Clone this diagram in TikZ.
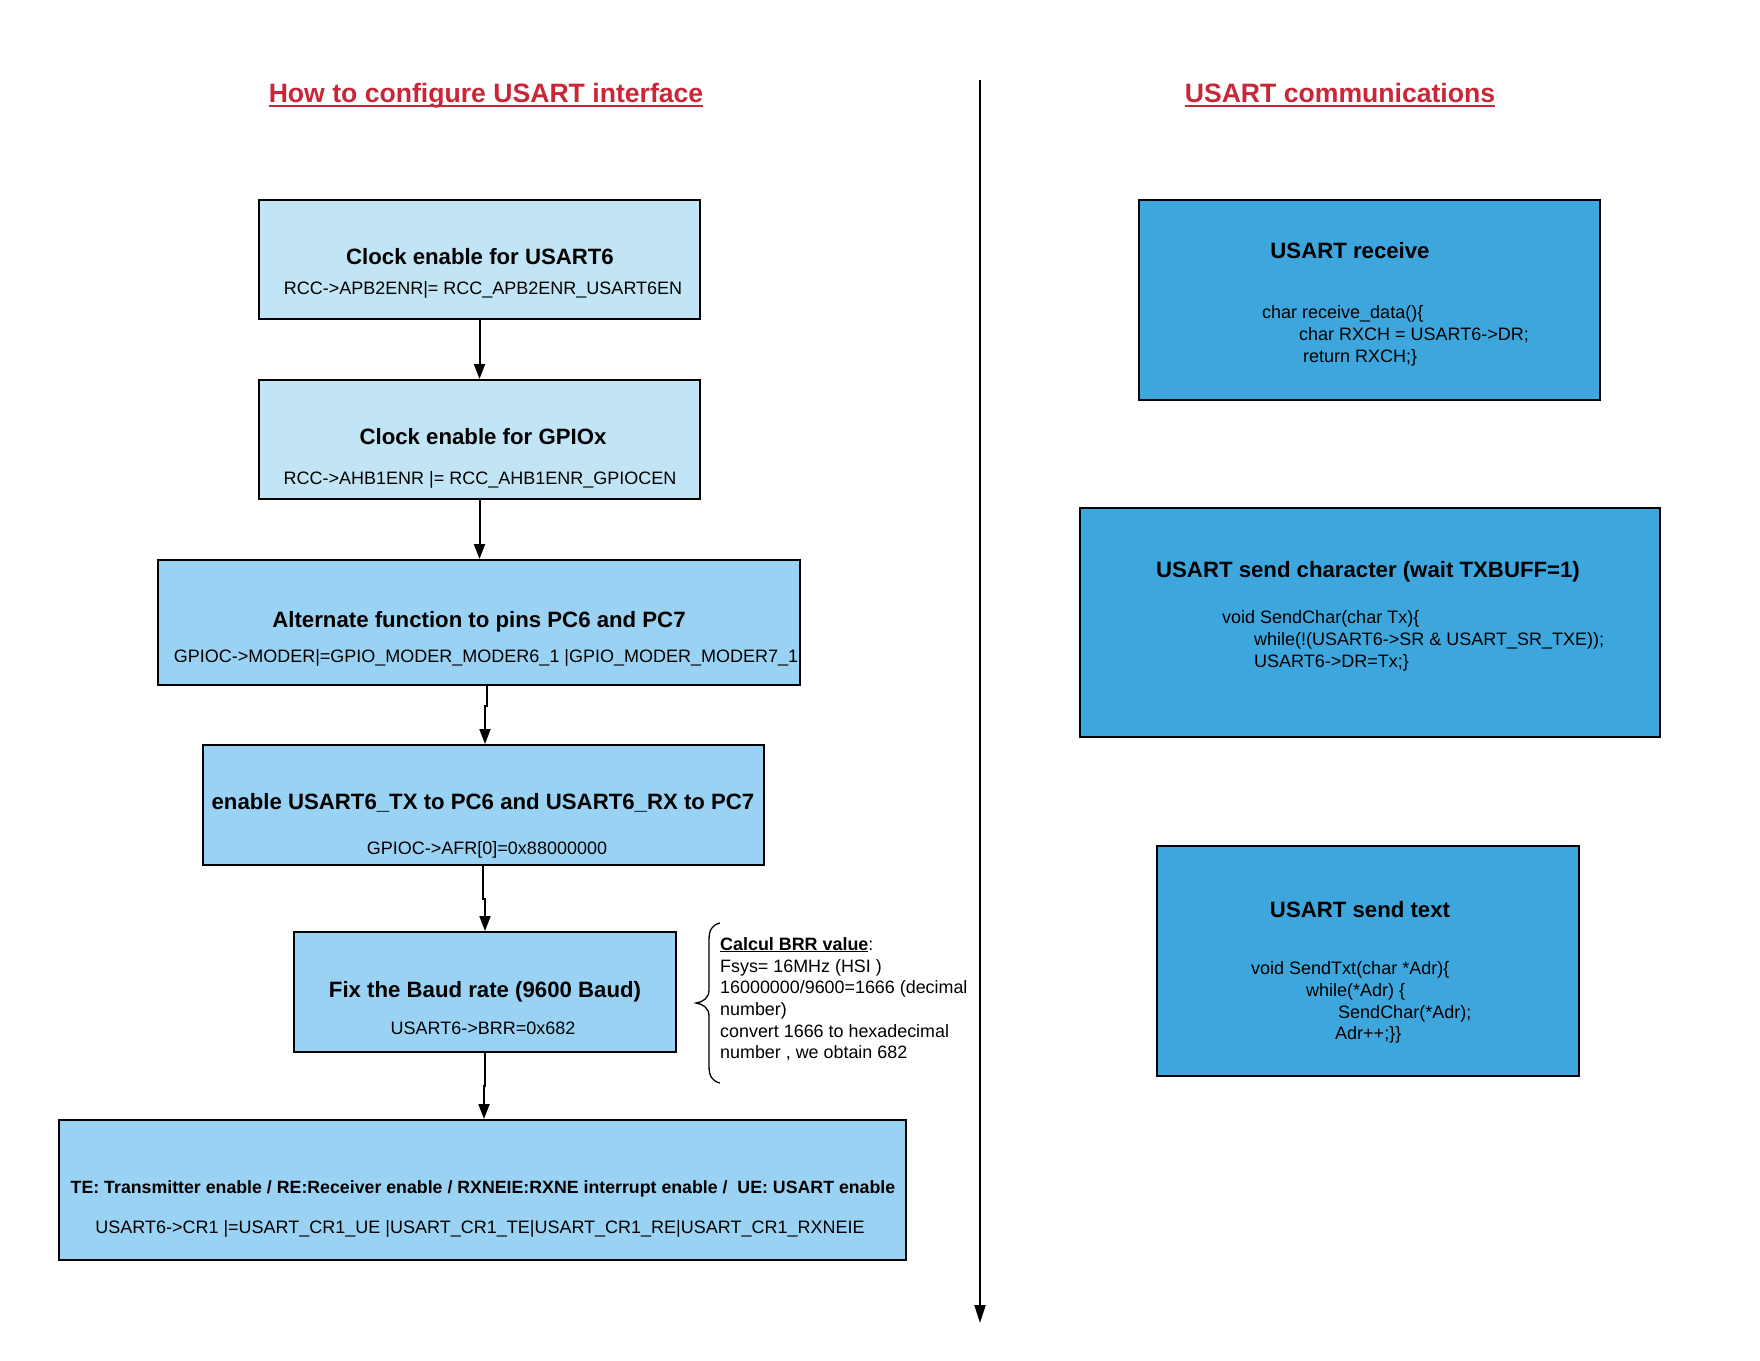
\documentclass[tikz,border=0pt]{standalone}
\usepackage{fontspec}
\setmainfont{Liberation Sans}
\usetikzlibrary{arrows.meta}
\definecolor{titlered}{RGB}{201,38,56}
\definecolor{lightA}{RGB}{194,229,246}
\definecolor{lightB}{RGB}{154,210,243}
\definecolor{darkC}{RGB}{60,166,221}
\tikzset{
  boxA/.style={draw=black, line width=2pt, fill=lightA, inner sep=0pt, rectangle},
  boxB/.style={draw=black, line width=2pt, fill=lightB, inner sep=0pt, rectangle},
  boxC/.style={draw=black, line width=2pt, fill=darkC, inner sep=0pt, rectangle},
  ttl/.style={font=\fontsize{22.2}{26}\selectfont\bfseries, anchor=base, inner sep=0pt},
  ttlsmall/.style={font=\fontsize{17.75}{21}\selectfont\bfseries, anchor=base, inner sep=0pt},
  subtxt/.style={font=\fontsize{18}{21}\selectfont, anchor=base, inner sep=0pt},
  codetxt/.style={font=\fontsize{18}{21}\selectfont, anchor=base west, inner sep=0pt},
  notetxt/.style={font=\fontsize{17.9}{21}\selectfont, anchor=base west, inner sep=0pt},
  heading/.style={font=\fontsize{26.6}{30}\selectfont\bfseries, text=titlered, anchor=base, inner sep=0pt},
  flow/.style={line width=2pt, -{Triangle[length=15pt,width=11pt]}},
}
\begin{document}
\begin{tikzpicture}[x=1pt,y=-1pt]
\useasboundingbox[fill=white] (0,0) rectangle (1760,1360);

% headings
\node[heading] (h1) at (486,102) {How to configure USART interface};
\draw[titlered, line width=2.6pt] ([yshift=-4pt]h1.base west) -- ([yshift=-4pt]h1.base east);
\node[heading] (h2) at (1340,102) {USART communications};
\draw[titlered, line width=2.6pt] ([yshift=-4pt]h2.base west) -- ([yshift=-4pt]h2.base east);

% divider
\coordinate (dtop) at (980,80);
\coordinate (dbot) at (980,1323);
\draw[line width=2pt, -{Triangle[length=18pt,width=11pt]}] (dtop) -- (dbot);

% left boxes
\node[boxA, minimum width=441pt, minimum height=119pt] (b1) at (479.5,259.5) {};
\node[boxA, minimum width=441pt, minimum height=119pt] (b2) at (479.5,439.5) {};
\node[boxB, minimum width=642pt, minimum height=125pt] (b3) at (479,622.5) {};
\node[boxB, minimum width=561pt, minimum height=120pt] (b4) at (483.5,805) {};
\node[boxB, minimum width=382pt, minimum height=120pt] (b5) at (485,992) {};
\node[boxB, minimum width=847pt, minimum height=140pt] (b6) at (482.5,1190) {};

\node[ttl] (b1t) at (480,264) {Clock enable for USART6};
\node[subtxt] (b1s) at (483,294) {RCC->APB2ENR|= RCC\_APB2ENR\_USART6EN};
\node[ttl] (b2t) at (483,444) {Clock enable for GPIOx};
\node[subtxt] (b2s) at (480,484) {RCC->AHB1ENR |= RCC\_AHB1ENR\_GPIOCEN};
\node[ttl] (b3t) at (479,627) {Alternate function to pins PC6 and PC7};
\node[subtxt] (b3s) at (486,662) {GPIOC->MODER|=GPIO\_MODER\_MODER6\_1 |GPIO\_MODER\_MODER7\_1};
\node[ttl] (b4t) at (483,809) {enable USART6\_TX to PC6 and USART6\_RX to PC7};
\node[subtxt] (b4s) at (487,854) {GPIOC->AFR[0]=0x88000000};
\node[ttl] (b5t) at (485,997) {Fix the Baud rate (9600 Baud)};
\node[subtxt] (b5s) at (483,1034) {USART6->BRR=0x682};
\node[ttlsmall] (b6t) at (483,1193) {TE: Transmitter enable / RE:Receiver enable / RXNEIE:RXNE interrupt enable /\ \ UE: USART enable};
\node[subtxt] (b6s) at (480,1233) {USART6->CR1 |=USART\_CR1\_UE |USART\_CR1\_TE|USART\_CR1\_RE|USART\_CR1\_RXNEIE};

% connectors
\draw[flow] (b1.south) -- (b2.north);
\draw[flow] (b2.south) -- (b2.south |- b3.north);
\draw[flow] ([xshift=7.5pt]b3.south) -- ++(0,20) -| ([xshift=1.5pt]b4.north);
\draw[flow] ([xshift=-0.5pt]b4.south) -- ++(0,33) -| (b5.north);
\draw[flow] (b5.south) -- ++(0,33) -| ([xshift=1.5pt]b6.north);

% brace and note
\coordinate (brA) at (720,923);
\coordinate (brB) at (720,1083);
\coordinate (brT) at (696,1003);
\draw[line width=1.3pt] (brA) .. controls (712,925) and (709,930) .. (709,940)
  -- (709,990) .. controls (709,998) and (703,1002) .. (brT)
  .. controls (703,1004) and (709,1008) .. (709,1016)
  -- (709,1066) .. controls (709,1076) and (712,1081) .. (brB);
\node[notetxt] (n1) at (720,950) {\textbf{\underline{Calcul BRR value}}:};
\node[notetxt] (n2) at (720,972) {Fsys= 16MHz (HSI )};
\node[notetxt] (n3) at (720,993) {16000000/9600=1666 (decimal};
\node[notetxt] (n4) at (720,1015) {number)};
\node[notetxt] (n5) at (720,1037) {convert 1666 to hexadecimal};
\node[notetxt] (n6) at (720,1058) {number , we obtain 682};

% right boxes
\node[boxC, minimum width=461pt, minimum height=200pt] (r1) at (1369.5,300) {};
\node[boxC, minimum width=580pt, minimum height=229pt] (r2) at (1370,622.5) {};
\node[boxC, minimum width=422pt, minimum height=230pt] (r3) at (1368,961) {};

\node[ttl] (r1t) at (1350,258) {USART receive};
\node[codetxt] (r1a) at (1262,318) {char receive\_data()\{};
\node[codetxt] (r1b) at (1299,340) {char RXCH = USART6->DR;};
\node[codetxt] (r1c) at (1303,362) {return RXCH;\}};

\node[ttl] (r2t) at (1368,577) {USART send character (wait TXBUFF=1)};
\node[codetxt] (r2a) at (1222,623) {void SendChar(char Tx)\{};
\node[codetxt] (r2b) at (1254,645) {while(!(USART6->SR \& USART\_SR\_TXE));};
\node[codetxt] (r2c) at (1254,667) {USART6->DR=Tx;\}};

\node[ttl] (r3t) at (1360,917) {USART send text};
\node[codetxt] (r3a) at (1251,974) {void SendTxt(char *Adr)\{};
\node[codetxt] (r3b) at (1306,996) {while(*Adr) \{};
\node[codetxt] (r3c) at (1338,1018) {SendChar(*Adr);};
\node[codetxt] (r3d) at (1335,1039) {Adr++;\}\}};
\end{tikzpicture}
\end{document}
